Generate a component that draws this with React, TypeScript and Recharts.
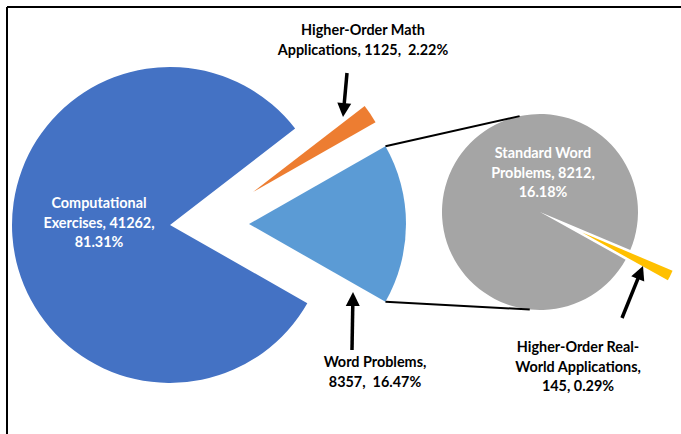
import React from 'react';
import { PieChart, Pie, Cell } from 'recharts';

// Primary pie (Word Problems is split out into the secondary pie)
const mainCategories = ['Word Problems', 'Higher-Order Math Applications', 'Computational Exercises'];
const mainValues = [8357, 1125, 41262];
const mainPercents = ['16.47%', '2.22%', '81.31%'];
const mainColors = ['#5B9BD5', '#ED7D31', '#4472C4'];

// Secondary pie (breakdown of Word Problems)
const subCategories = ['Higher-Order Real-World Applications', 'Standard Word Problems'];
const subValues = [145, 8212];
const subPercents = ['0.29%', '16.18%'];
const subColors = ['#FFC000', '#A5A5A5'];

const mainData = mainCategories.map((name, i) => ({ name, value: mainValues[i] }));
const subData = subCategories.map((name, i) => ({ name, value: subValues[i] }));

const mainTotal = mainValues.reduce((a, b) => a + b, 0);
const mainStart = -(mainValues[0] / mainTotal) * 180;
const subTotal = subValues.reduce((a, b) => a + b, 0);
const subMid = -26;
const subStart = subMid - (subValues[0] / subTotal) * 180;

const W = 681;
const H = 434;
const FONT = 'Lato, "Open Sans", sans-serif';

// layout
const MAIN = { cx: 170, cy: 225, r: 158 };
const WP = { cx: 249, cy: 224, r: 157 };
const HOM = { cx: 253, cy: 192, r: 141 };
const SUB = { cx: 540, cy: 212, r: 98 };
const subExplode = 47;
const YEL = {
  cx: SUB.cx + subExplode * Math.cos((subMid * Math.PI) / 180),
  cy: SUB.cy - subExplode * Math.sin((subMid * Math.PI) / 180),
  r: 98,
};

const polar = (cx: number, cy: number, r: number, deg: number) => ({
  x: cx + r * Math.cos((deg * Math.PI) / 180),
  y: cy - r * Math.sin((deg * Math.PI) / 180),
});

const Arrow = ({ x1, y1, x2, y2 }: { x1: number; y1: number; x2: number; y2: number }) => {
  const dx = x2 - x1;
  const dy = y2 - y1;
  const len = Math.sqrt(dx * dx + dy * dy);
  const ux = dx / len;
  const uy = dy / len;
  const hl = 14;
  const hw = 7;
  const bx = x2 - ux * hl;
  const by = y2 - uy * hl;
  return (
    <g>
      <line x1={x1} y1={y1} x2={bx + ux} y2={by + uy} stroke="#000" strokeWidth={3.5} />
      <polygon
        points={`${x2},${y2} ${bx - uy * hw},${by + ux * hw} ${bx + uy * hw},${by - ux * hw}`}
        fill="#000"
      />
    </g>
  );
};

const Label = ({ x, y, lines, fill }: { x: number; y: number; lines: string[]; fill: string }) => (
  <text
    x={x}
    y={y}
    textAnchor="middle"
    fontFamily={FONT}
    fontWeight="bold"
    fontSize={14.4}
    fill={fill}
    style={{ whiteSpace: 'pre' }}
  >
    {lines.map((l, i) => (
      <tspan key={i} x={x} dy={i === 0 ? 0 : 19.5}>
        {l}
      </tspan>
    ))}
  </text>
);

const Overlay = () => {
  const wpHalf = (mainValues[0] / mainTotal) * 180;
  const a1 = polar(WP.cx, WP.cy, WP.r, wpHalf);
  const a2 = polar(WP.cx, WP.cy, WP.r, -wpHalf);
  const b1 = polar(SUB.cx, SUB.cy, SUB.r, 102);
  const b2 = polar(SUB.cx, SUB.cy, SUB.r, -96);
  return (
    <svg
      width={W}
      height={H}
      style={{ position: 'absolute', left: 0, top: 0, pointerEvents: 'none' }}
    >
      <line x1={7} y1={7} x2={W} y2={7} stroke="#000" strokeWidth={2} />
      <line x1={7} y1={7} x2={7} y2={H} stroke="#000" strokeWidth={2} />
      <line x1={a1.x} y1={a1.y} x2={b1.x} y2={b1.y} stroke="#000" strokeWidth={2} />
      <line x1={a2.x} y1={a2.y} x2={b2.x} y2={b2.y} stroke="#000" strokeWidth={2} />
      <Arrow x1={347} y1={73} x2={343} y2={117} />
      <Arrow x1={352} y1={350} x2={353} y2={292} />
      <Arrow x1={622} y1={318} x2={643} y2={266} />
      <Label
        x={99}
        y={208}
        fill="#fff"
        lines={['Computational', `Exercises, ${mainValues[2]},`, mainPercents[2]]}
      />
      <Label
        x={363}
        y={35}
        fill="#000"
        lines={['Higher-Order Math', `Applications, ${mainValues[1]},  ${mainPercents[1]}`]}
      />
      <Label
        x={375}
        y={367}
        fill="#000"
        lines={['Word Problems,', `${mainValues[0]},  ${mainPercents[0]}`]}
      />
      <Label
        x={543}
        y={158}
        fill="#fff"
        lines={['Standard Word', `Problems, ${subValues[1]},`, subPercents[1]]}
      />
      <Label
        x={578}
        y={352}
        fill="#000"
        lines={['Higher-Order Real-', 'World Applications,', `${subValues[0]}, ${subPercents[0]}`]}
      />
    </svg>
  );
};

const onlyCell = (colors: string[], keep: number) =>
  colors.map((c, i) => <Cell key={i} fill={i === keep ? c : 'transparent'} />);

export default function App() {
  return (
    <div style={{ position: 'absolute', left: 0, top: 0, width: W, height: H, background: '#fff' }}>
      <PieChart width={W} height={H} margin={{ top: 0, right: 0, bottom: 0, left: 0 }}>
        <Pie
          data={mainData}
          dataKey="value"
          cx={MAIN.cx}
          cy={MAIN.cy}
          outerRadius={MAIN.r}
          startAngle={mainStart}
          endAngle={mainStart + 360}
          stroke="none"
          isAnimationActive={false}
        >
          {onlyCell(mainColors, 2)}
        </Pie>
        <Pie
          data={mainData}
          dataKey="value"
          cx={WP.cx}
          cy={WP.cy}
          outerRadius={WP.r}
          startAngle={mainStart}
          endAngle={mainStart + 360}
          stroke="none"
          isAnimationActive={false}
        >
          {onlyCell(mainColors, 0)}
        </Pie>
        <Pie
          data={mainData}
          dataKey="value"
          cx={HOM.cx}
          cy={HOM.cy}
          outerRadius={HOM.r}
          startAngle={mainStart}
          endAngle={mainStart + 360}
          stroke="none"
          isAnimationActive={false}
        >
          {onlyCell(mainColors, 1)}
        </Pie>
        <Pie
          data={subData}
          dataKey="value"
          cx={SUB.cx}
          cy={SUB.cy}
          outerRadius={SUB.r}
          startAngle={subStart}
          endAngle={subStart + 360}
          stroke="none"
          isAnimationActive={false}
        >
          {onlyCell(subColors, 1)}
        </Pie>
        <Pie
          data={subData}
          dataKey="value"
          cx={YEL.cx}
          cy={YEL.cy}
          outerRadius={YEL.r}
          startAngle={subStart}
          endAngle={subStart + 360}
          stroke="none"
          isAnimationActive={false}
        >
          {onlyCell(subColors, 0)}
        </Pie>
      </PieChart>
      <Overlay />
    </div>
  );
}
